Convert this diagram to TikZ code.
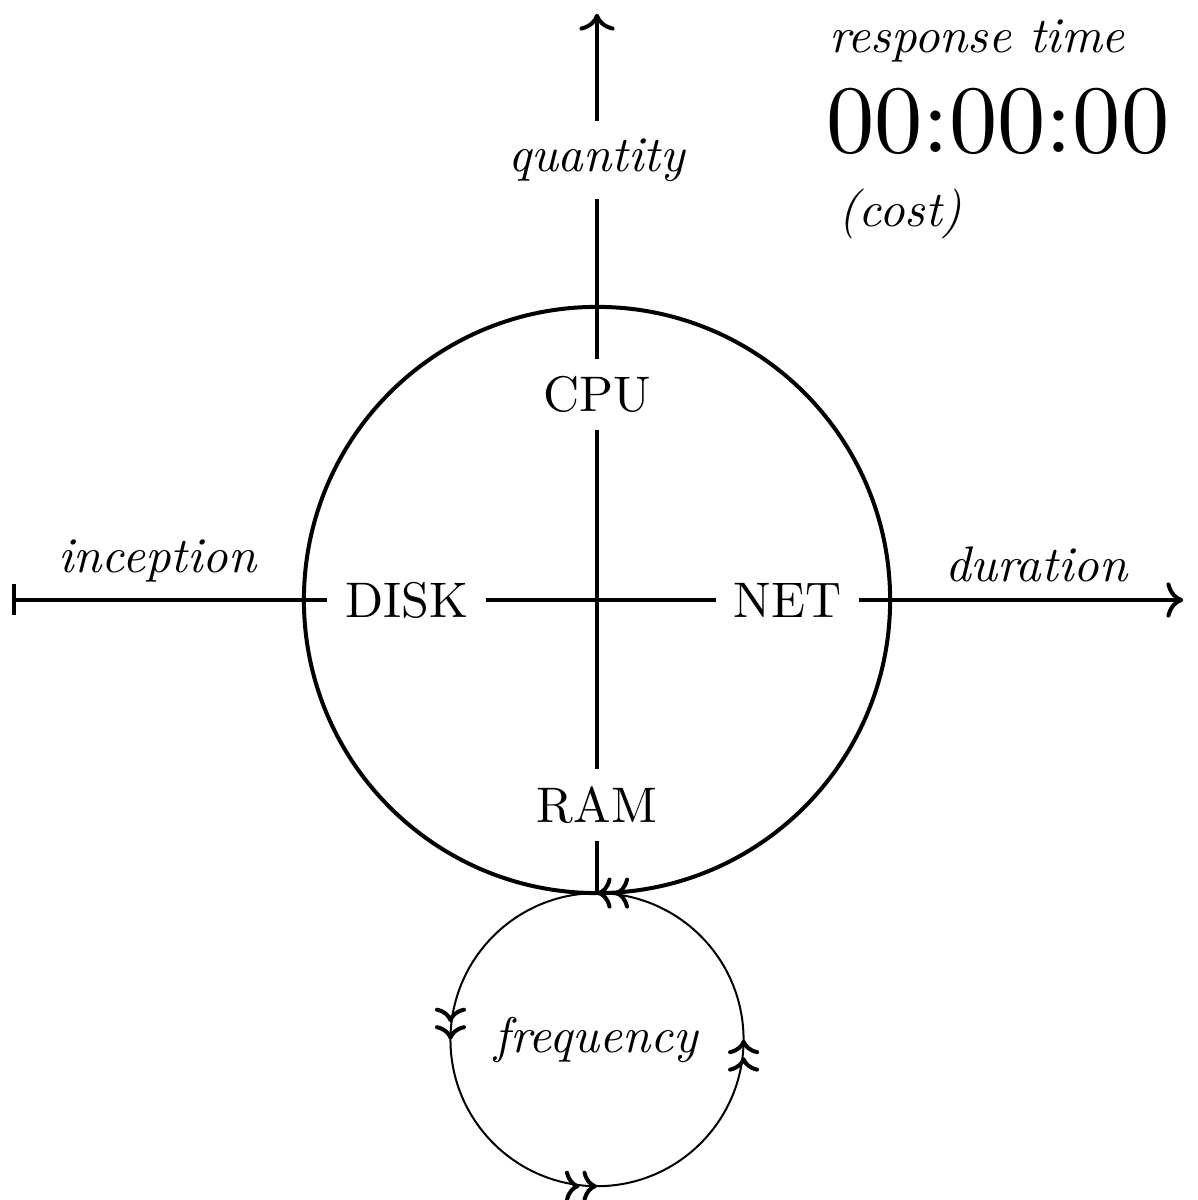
\documentclass[tikz,border=0pt]{standalone}
\usepackage{tikz}
\usepackage{graphicx}
\usetikzlibrary{decorations.markings, arrows.meta}

\begin{document}
\begin{tikzpicture}
	\def\R{2.06}
	\tikzset{axis/.style={thick}, loopdir/.style={postaction={decorate}, decoration={markings, mark=between positions 0 and 0.8 step 0.25 with {\arrow{To[length=2.9pt,width=6.2pt,line width=0.8pt,sep=0.6pt]To[length=2.9pt,width=6.2pt,line width=0.8pt]}}}}}
	\useasboundingbox (-4.196,-4.217) rectangle (4.217,4.217);
	\draw[thick] (0,0) circle (\R);
	\draw[loopdir] (0,-1.5*\R) circle (\R/2);
	\coordinate (qtip) at (0,4.12);
	\coordinate (start) at (-4.11,0);
	\coordinate (dtip) at (4.12,0);
	\coordinate (bottom) at (0,-\R);
	\node (quantity) at (0,3.09) {\textit{quantity}};
	\node (cpu) at (0,1.445) {CPU};
	\node (ram) at (0,-1.44) {RAM};
	\node (disk) at (-1.339,0) {DISK};
	\node (net) at (1.339,0) {NET};
	\node (inception) at (-3.085,0) [above] {\textit{inception}};
	\node (duration) at (3.09,0) [above] {\textit{duration}};
	\node (frequency) at (0,-1.5*\R) {\textit{frequency}};
	\draw[axis,->] (quantity) -- (qtip);
	\draw[axis] (quantity) -- (cpu);
	\draw[axis] (cpu) -- (ram);
	\draw[axis] (ram) -- (bottom);
	\draw[axis,|-] (start) -- (disk);
	\draw[axis] (disk) -- (net);
	\draw[axis,->] (net) -- (dtip);
	\node (resp) at (1.624,3.845) [anchor=base west, inner sep=0pt] {\textit{response time}};
	\node (clock) at (1.603,3.142) [anchor=base west, inner sep=0pt] {\scalebox{1.93}{00:00:00}};
	\node (cost) at (1.69,2.622) [anchor=base west, inner sep=0pt] {\textit{(cost)}};
\end{tikzpicture}
\end{document}
